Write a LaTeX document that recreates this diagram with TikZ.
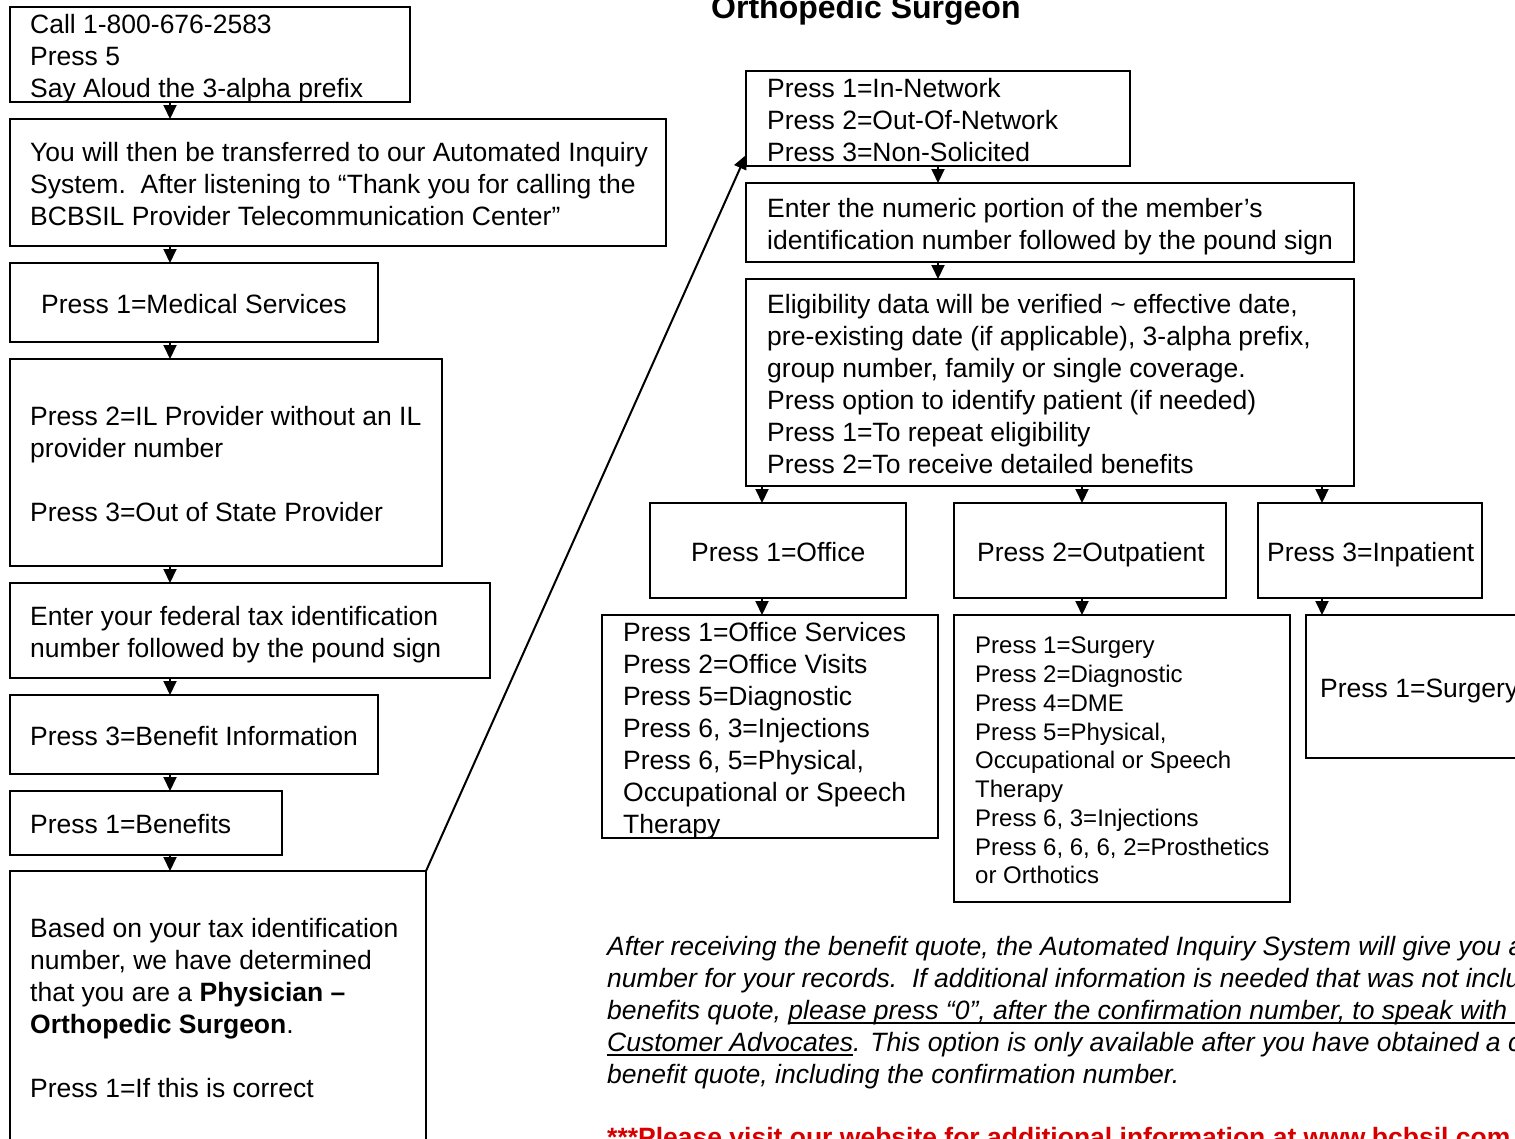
\documentclass[tikz,border=0pt]{standalone}
\usepackage{fontspec}
\setmainfont{Liberation Sans}
\usetikzlibrary{arrows.meta}
\definecolor{redtxt}{RGB}{215,0,0}
\newcommand\myul[1]{\setbox0\hbox{#1}\rlap{\rule[-4.5pt]{\wd0}{2pt}}\box0}
\begin{document}
\begin{tikzpicture}[x=1pt,y=-1pt,
  box/.style={draw, line width=2pt, anchor=north west, inner sep=0pt, outer sep=0pt},
  txt/.style={anchor=north west, inner sep=0pt, align=left, font=\fontsize{26.5}{32}\selectfont},
  smalltxt/.style={anchor=north west, inner sep=0pt, align=left, font=\fontsize{24}{28.75}\selectfont},
  arr/.style={line width=2pt, -{Triangle[width=13pt,length=14pt]}}]
\useasboundingbox (0,0) rectangle (1515,1138);
\fill[white] (0,0) rectangle (1515,1138);
\clip (0,0) rectangle (1515,1138);

% boxes
\node[box, minimum width=400pt, minimum height=95pt] (A) at (10,7) {};
\node[box, minimum width=656pt, minimum height=127pt] (B) at (10,119) {};
\node[box, minimum width=368pt, minimum height=79pt] (C) at (10,263) {};
\node[box, minimum width=432pt, minimum height=207pt] (D) at (10,359) {};
\node[box, minimum width=480pt, minimum height=95pt] (E) at (10,583) {};
\node[box, minimum width=368pt, minimum height=79pt] (F) at (10,695) {};
\node[box, minimum width=272pt, minimum height=64pt] (G) at (10,791) {};
\node[box, minimum width=416pt, minimum height=300pt] (H) at (10,871) {};
\node[box, minimum width=384pt, minimum height=95pt] (I) at (746,71) {};
\node[box, minimum width=608pt, minimum height=79pt] (J) at (746,183) {};
\node[box, minimum width=608pt, minimum height=207pt] (K) at (746,279) {};
\node[box, minimum width=256pt, minimum height=95pt] (L1) at (650,503) {};
\node[box, minimum width=272pt, minimum height=95pt] (L2) at (954,503) {};
\node[box, minimum width=224pt, minimum height=95pt] (L3) at (1258,503) {};
\node[box, minimum width=336pt, minimum height=223pt] (M1) at (602,615) {};
\node[box, minimum width=336pt, minimum height=287pt] (M2) at (954,615) {};
\node[box, minimum width=260pt, minimum height=143pt] (M3) at (1306,615) {};

% texts
\node[txt] (tA) at (30,11.1) {\strut Call 1-800-676-2583\\Press 5\\Say Aloud the 3-alpha prefix};
\node[txt] (tB) at (30,139.1) {\strut You will then be transferred to our Automated Inquiry\\System.\ \ After listening to “Thank you for calling the\\BCBSIL Provider Telecommunication Center”};
\node[txt] (tC) at (41,291.1) {\strut Press 1=Medical Services};
\node[txt] (tD) at (30,403.1) {\strut Press 2=IL Provider without an IL\\provider number\\[32pt]Press 3=Out of State Provider};
\node[txt] (tE) at (30,603.1) {\strut Enter your federal tax identification\\number followed by the pound sign};
\node[txt] (tF) at (30,723.1) {\strut Press 3=Benefit Information};
\node[txt] (tG) at (30,811.1) {\strut Press 1=Benefits};
\node[txt] (tH) at (30,915.1) {\strut Based on your tax identification\\number, we have determined\\that you are a \textbf{Physician –}\\\textbf{Orthopedic Surgeon}.\\[32pt]Press 1=If this is correct};
\node[txt] (tI) at (767,75.1) {\strut Press 1=In-Network\\Press 2=Out-Of-Network\\Press 3=Non-Solicited};
\node[txt] (tJ) at (767,195.1) {\strut Enter the numeric portion of the member’s\\identification number followed by the pound sign};
\node[txt] (tK) at (767,291.1) {\strut Eligibility data will be verified \textasciitilde\ effective date,\\pre-existing date (if applicable), 3-alpha prefix,\\group number, family or single coverage.\\Press option to identify patient (if needed)\\Press 1=To repeat eligibility\\Press 2=To receive detailed benefits};
\node[txt] (tL1) at (691,539.1) {\strut Press 1=Office};
\node[txt] (tL2) at (977,539.1) {\strut Press 2=Outpatient};
\node[txt] (tL3) at (1267,539.1) {\strut Press 3=Inpatient};
\node[txt] (tM1) at (623,619.1) {\strut Press 1=Office Services\\Press 2=Office Visits\\Press 5=Diagnostic\\Press 6, 3=Injections\\Press 6, 5=Physical,\\Occupational or Speech\\Therapy};
\node[smalltxt] (tM2) at (975,633.5) {\strut Press 1=Surgery\\Press 2=Diagnostic\\Press 4=DME\\Press 5=Physical,\\Occupational or Speech\\Therapy\\Press 6, 3=Injections\\Press 6, 6, 6, 2=Prosthetics\\or Orthotics};
\node[txt] (tM3) at (1320,675.1) {\strut Press 1=Surgery};

\node[anchor=base west, inner sep=0pt, font=\bfseries\fontsize{32}{38}\selectfont] (title) at (711,18) {Orthopedic Surgeon};
\node[txt, font=\itshape\fontsize{26.5}{32}\selectfont] (note) at (607,933.1) {\strut After receiving the benefit quote, the Automated Inquiry System will give you a\\number for your records.\ \ If additional information is needed that was not inclu\\benefits quote, \myul{please press “0”, after the confirmation number, to speak with\hspace{40pt}}\\\myul{Customer Advocates}. This option is only available after you have obtained a c\\benefit quote, including the confirmation number.};
\node[anchor=base west, inner sep=0pt, font=\bfseries\fontsize{26.5}{32}\selectfont, text=redtxt] (web) at (607,1146) {***Please visit our website for additional information at www.bcbsil.com};

% connector x positions
\coordinate (xl) at (170,0);
\coordinate (xr) at (938,0);
\coordinate (x1) at (762,0);
\coordinate (x2) at (1082,0);
\coordinate (x3) at (1322,0);

\draw[arr] (A.south -| xl) -- (B.north -| xl);
\draw[arr] (B.south -| xl) -- (C.north -| xl);
\draw[arr] (C.south -| xl) -- (D.north -| xl);
\draw[arr] (D.south -| xl) -- (E.north -| xl);
\draw[arr] (E.south -| xl) -- (F.north -| xl);
\draw[arr] (F.south -| xl) -- (G.north -| xl);
\draw[arr] (G.south -| xl) -- (H.north -| xl);
\draw[arr] (H.north east) -- ([yshift=11pt]I.south west);
\draw[arr] (I.south -| xr) -- (J.north -| xr);
\draw[arr] (J.south -| xr) -- (K.north -| xr);
\draw[arr] (K.south -| x1) -- (L1.north -| x1);
\draw[arr] (K.south -| x2) -- (L2.north -| x2);
\draw[arr] (K.south -| x3) -- (L3.north -| x3);
\draw[arr] (L1.south -| x1) -- (M1.north -| x1);
\draw[arr] (L2.south -| x2) -- (M2.north -| x2);
\draw[arr] (L3.south -| x3) -- (M3.north -| x3);
\end{tikzpicture}
\end{document}
